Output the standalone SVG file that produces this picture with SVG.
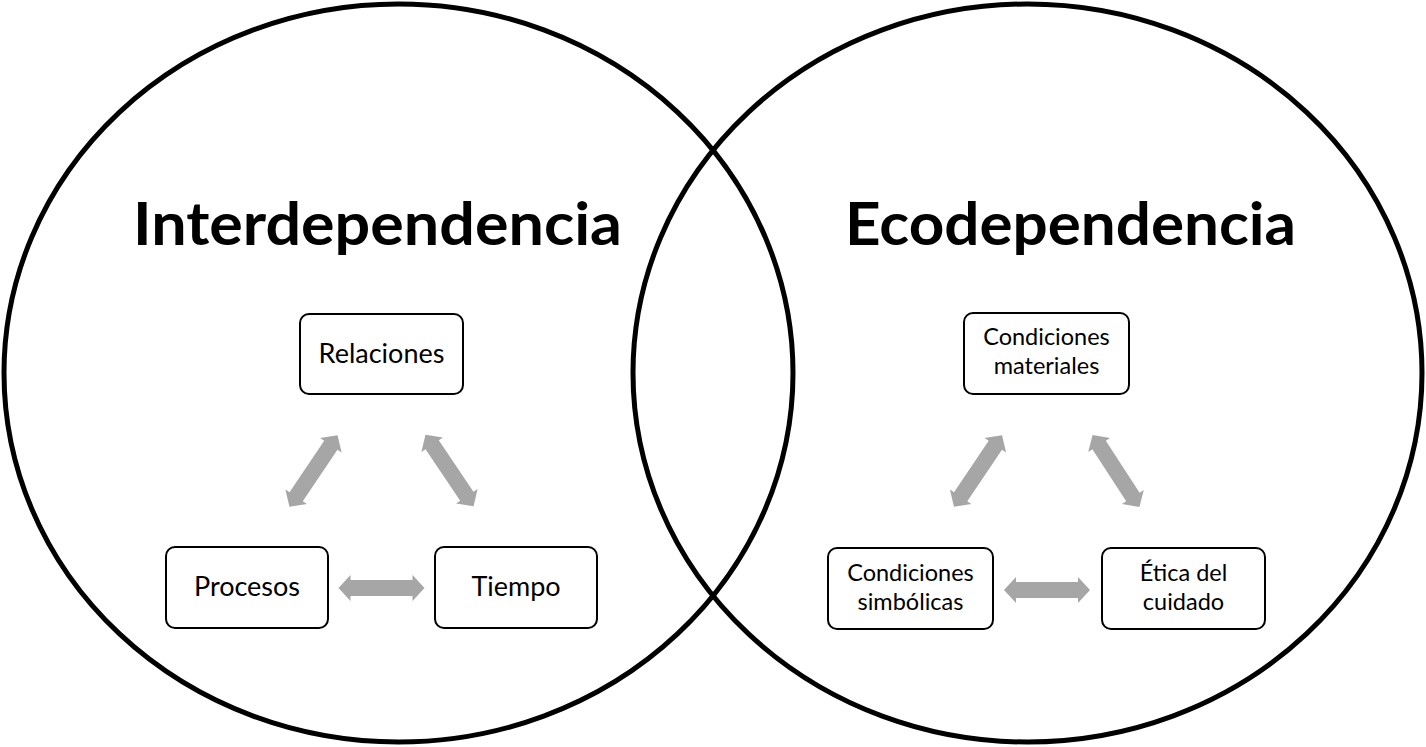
<svg xmlns="http://www.w3.org/2000/svg" width="1426" height="747" viewBox="0 0 1426 747">
<defs>
<style>
.circle{fill:none;stroke:#000;stroke-width:5}
.box{fill:#fff;stroke:#000;stroke-width:2}
.title{font-family:Lato,"Open Sans",sans-serif;font-weight:bold;font-size:60px;text-anchor:middle;fill:#000}
.lbl{font-family:Lato,"Open Sans",sans-serif;font-size:27px;text-anchor:middle;fill:#000}
.lbl2{font-family:Lato,"Open Sans",sans-serif;font-size:23.5px;text-anchor:middle;fill:#000}
.arr{fill:#a6a6a6}
</style>
<polygon id="darrow" class="arr" points="-43,0 -31,-13 -31,-8 31,-8 31,-13 43,0 31,13 31,8 -31,8 -31,13"/>
</defs>
<rect width="1426" height="747" fill="#fff"/>
<g id="circle-left"><ellipse class="circle" cx="398.5" cy="373" rx="394.5" ry="369"/></g>
<g id="circle-right"><ellipse class="circle" cx="1027.5" cy="373" rx="394.5" ry="369"/></g>
<g id="title-left"><text class="title" x="377.5" y="245" textLength="489" lengthAdjust="spacingAndGlyphs">Interdependencia</text></g>
<g id="title-right"><text class="title" x="1070.5" y="245" textLength="451" lengthAdjust="spacingAndGlyphs">Ecodependencia</text></g>
<g id="connectors">
<use href="#darrow" transform="translate(313.5,471) rotate(-56)"/>
<use href="#darrow" transform="translate(449.5,470.5) rotate(56)"/>
<use href="#darrow" transform="translate(381.5,588)"/>
<use href="#darrow" transform="translate(978,471) rotate(-56)"/>
<use href="#darrow" transform="translate(1116,471) rotate(57)"/>
<use href="#darrow" transform="translate(1047,590)"/>
</g>
<g id="relaciones"><rect class="box" x="300" y="314" width="163" height="80" rx="9"/><text class="lbl" x="381.5" y="363">Relaciones</text></g>
<g id="procesos"><rect class="box" x="166" y="547" width="162" height="81" rx="9"/><text class="lbl" x="247" y="596">Procesos</text></g>
<g id="tiempo"><rect class="box" x="435" y="547" width="162" height="81" rx="9"/><text class="lbl" x="516" y="596">Tiempo</text></g>
<g id="cond-materiales"><rect class="box" x="964" y="313" width="165" height="81" rx="9"/><text class="lbl2" x="1046.5" y="345">Condiciones</text><text class="lbl2" x="1046.5" y="374">materiales</text></g>
<g id="cond-simbolicas"><rect class="box" x="828" y="548" width="165" height="81" rx="9"/><text class="lbl2" x="910.5" y="581">Condiciones</text><text class="lbl2" x="910.5" y="610">simbólicas</text></g>
<g id="etica"><rect class="box" x="1102" y="548" width="163" height="81" rx="9"/><text class="lbl2" x="1183.5" y="581">Ética del</text><text class="lbl2" x="1183.5" y="610">cuidado</text></g>
</svg>
